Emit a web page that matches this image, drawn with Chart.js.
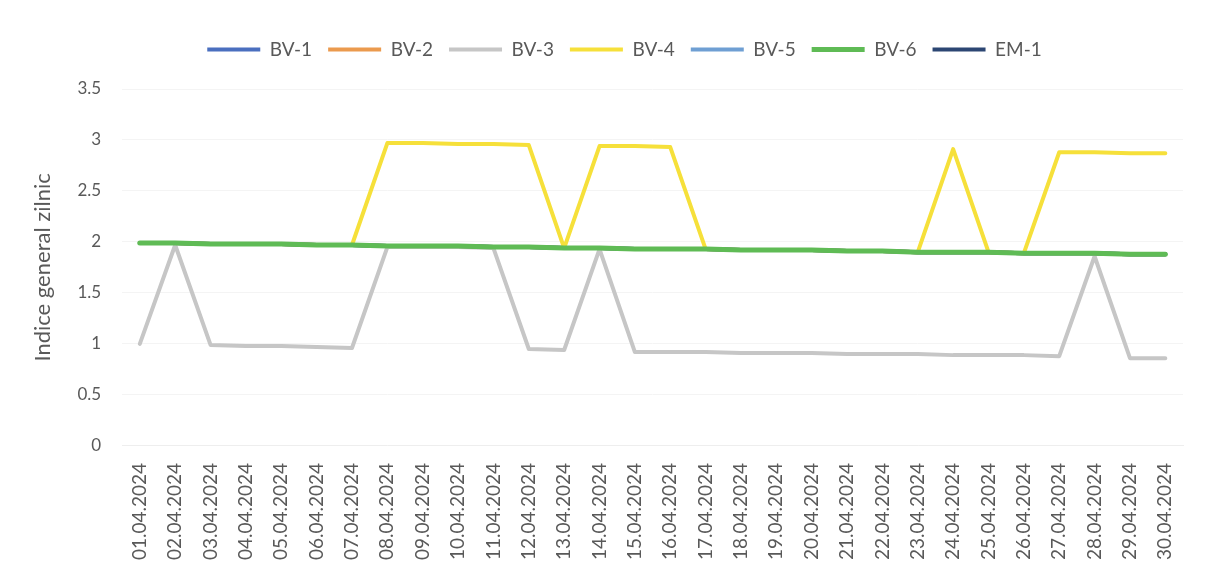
<!DOCTYPE html>
<html>
<head>
<meta charset="utf-8">
<script src="https://cdn.jsdelivr.net/npm/chart.js@4/dist/chart.umd.min.js"></script>
<style>
  html, body { margin: 0; padding: 0; background: #fff; }
  #wrap { width: 1226px; height: 579px; position: relative; }
</style>
</head>
<body>
<div id="wrap"><canvas id="chart"></canvas></div>
<script>
const DATES = [
  '01.04.2024', '02.04.2024', '03.04.2024', '04.04.2024', '05.04.2024', '06.04.2024',
  '07.04.2024', '08.04.2024', '09.04.2024', '10.04.2024', '11.04.2024', '12.04.2024',
  '13.04.2024', '14.04.2024', '15.04.2024', '16.04.2024', '17.04.2024', '18.04.2024',
  '19.04.2024', '20.04.2024', '21.04.2024', '22.04.2024', '23.04.2024', '24.04.2024',
  '25.04.2024', '26.04.2024', '27.04.2024', '28.04.2024', '29.04.2024', '30.04.2024',
];

const Y_TICKS = [0, 0.5, 1, 1.5, 2, 2.5, 3, 3.5];

// series hidden under the green one (same readings)
const BV1 = [1.99, 1.99, 1.98, 1.98, 1.98, 1.97, 1.97, 1.96, 1.96, 1.96, 1.95, 1.95, 1.94, 1.94, 1.93,
  1.93, 1.93, 1.92, 1.92, 1.92, 1.91, 1.91, 1.9, 1.9, 1.9, 1.89, 1.89, 1.89, 1.88, 1.88];
const BV2 = [1.99, 1.99, 1.98, 1.98, 1.98, 1.97, 1.97, 1.96, 1.96, 1.96, 1.95, 1.95, 1.94, 1.94, 1.93,
  1.93, 1.93, 1.92, 1.92, 1.92, 1.91, 1.91, 1.9, 1.9, 1.9, 1.89, 1.89, 1.89, 1.88, 1.88];
const BV3 = [1.0, 1.97, 0.99, 0.98, 0.98, 0.97, 0.96, 1.95, 1.95, 1.95, 1.94, 0.95, 0.94, 1.93, 0.92,
  0.92, 0.92, 0.91, 0.91, 0.91, 0.9, 0.9, 0.9, 0.89, 0.89, 0.89, 0.88, 1.86, 0.86, 0.86];
const BV4 = [1.99, 1.99, 1.98, 1.98, 1.98, 1.97, 1.97, 2.97, 2.97, 2.96, 2.96, 2.95, 1.94, 2.94, 2.94,
  2.93, 1.93, 1.92, 1.92, 1.92, 1.91, 1.91, 1.9, 2.91, 1.9, 1.89, 2.88, 2.88, 2.87, 2.87];
const BV5 = [1.99, 1.99, 1.98, 1.98, 1.98, 1.97, 1.97, 1.96, 1.96, 1.96, 1.95, 1.95, 1.94, 1.94, 1.93,
  1.93, 1.93, 1.92, 1.92, 1.92, 1.91, 1.91, 1.9, 1.9, 1.9, 1.89, 1.89, 1.89, 1.88, 1.88];
const BV6 = [1.99, 1.99, 1.98, 1.98, 1.98, 1.97, 1.97, 1.96, 1.96, 1.96, 1.95, 1.95, 1.94, 1.94, 1.93,
  1.93, 1.93, 1.92, 1.92, 1.92, 1.91, 1.91, 1.9, 1.9, 1.9, 1.89, 1.89, 1.89, 1.88, 1.88];
const EM1 = [1.99, 1.99, 1.98, 1.98, 1.98, 1.97, 1.97, 1.96, 1.96, 1.96, 1.95, 1.95, 1.94, 1.94, 1.93,
  1.93, 1.93, 1.92, 1.92, 1.92, 1.91, 1.91, 1.9, 1.9, 1.9, 1.89, 1.89, 1.89, 1.88, 1.88];

const SERIES = [
  { label: 'BV-1', data: BV1, color: '#4a6fbf', width: 4 },
  { label: 'BV-2', data: BV2, color: '#eb9a4e', width: 4 },
  { label: 'BV-3', data: BV3, color: '#c6c6c6', width: 4 },
  { label: 'BV-4', data: BV4, color: '#f6e03a', width: 4 },
  { label: 'BV-5', data: BV5, color: '#6f9fd3', width: 4 },
  { label: 'BV-6', data: BV6, color: '#5fbb55', width: 5, order: -1 },
  { label: 'EM-1', data: EM1, color: '#2c4673', width: 4 },
];

const TEXT = '#595959';
const FONT = 'Lato';

// extra room between legend and plot, and legend nudged right like the original
const legendTweak = {
  id: 'legendTweak',
  beforeInit(chart) {
    const fit = chart.legend.fit;
    chart.legend.fit = function () {
      fit.call(this);
      this.height += 20;
    };
  },
  afterLayout(chart) {
    chart.legend.left += 18;
    chart.legend.right += 18;
  },
};

new Chart(document.getElementById('chart'), {
  type: 'line',
  data: {
    labels: DATES,
    datasets: SERIES.map((s) => ({
      label: s.label,
      data: s.data,
      borderColor: s.color,
      backgroundColor: s.color,
      borderWidth: s.width,
      borderCapStyle: 'round',
      borderJoinStyle: 'round',
      pointRadius: 0,
      tension: 0,
      order: s.order || 0,
    })),
  },
  plugins: [legendTweak],
  options: {
    responsive: true,
    maintainAspectRatio: false,
    animation: false,
    layout: { padding: { top: 24, left: 30, right: 43, bottom: 2 } },
    plugins: {
      tooltip: { enabled: false },
      legend: {
        position: 'top',
        labels: {
          usePointStyle: true,
          pointStyle: 'line',
          pointStyleWidth: 53,
          color: TEXT,
          padding: 16,
          font: { family: FONT, size: 19 },
          sort: (a, b) => a.datasetIndex - b.datasetIndex,
        },
      },
    },
    scales: {
      x: {
        offset: true,
        grid: { display: false, drawTicks: false },
        border: { color: '#eeeeee' },
        ticks: {
          color: TEXT,
          font: { family: FONT, size: 19 },
          minRotation: 90,
          maxRotation: 90,
          autoSkip: false,
          padding: 17,
        },
      },
      y: {
        min: 0,
        max: 3.5,
        afterBuildTicks: (axis) => { axis.ticks = Y_TICKS.map((v) => ({ value: v })); },
        grid: { color: '#f4f4f4', drawTicks: false },
        border: { display: false },
        title: {
          display: true,
          text: 'Indice general zilnic',
          color: TEXT,
          font: { family: FONT, size: 22 },
          padding: { top: 0, bottom: 0 },
        },
        ticks: {
          color: TEXT,
          font: { family: FONT, size: 17 },
          padding: 21,
          callback: (v) => String(v),
        },
      },
    },
  },
});
</script>
</body>
</html>
